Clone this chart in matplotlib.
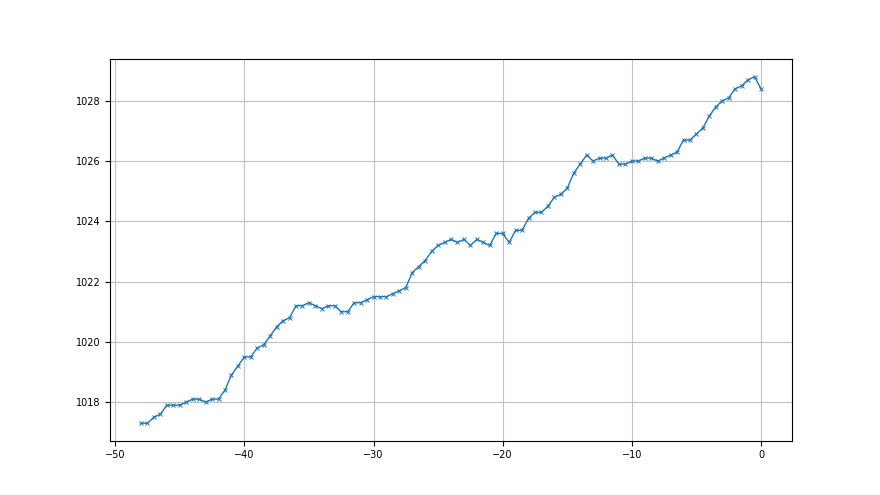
import numpy as np
import matplotlib
matplotlib.use("Agg")
import matplotlib.pyplot as plt

# hours relative to now, one reading every half hour
hours = np.arange(-48, 0.01, 0.5)

# pressure readings (hPa)
pressure = [
    1017.3, 1017.3, 1017.5, 1017.6, 1017.9, 1017.9, 1017.9, 1018.0, 1018.1, 1018.1,
    1018.0, 1018.1, 1018.1, 1018.4, 1018.9, 1019.2, 1019.5, 1019.5, 1019.8, 1019.9,
    1020.2, 1020.5, 1020.7, 1020.8, 1021.2, 1021.2, 1021.3, 1021.2, 1021.1, 1021.2,
    1021.2, 1021.0, 1021.0, 1021.3, 1021.3, 1021.4, 1021.5, 1021.5, 1021.5, 1021.6,
    1021.7, 1021.8, 1022.3, 1022.5, 1022.7, 1023.0, 1023.2, 1023.3, 1023.4, 1023.3,
    1023.4, 1023.2, 1023.4, 1023.3, 1023.2, 1023.6, 1023.6, 1023.3, 1023.7, 1023.7,
    1024.1, 1024.3, 1024.3, 1024.5, 1024.8, 1024.9, 1025.1, 1025.6, 1025.9, 1026.2,
    1026.0, 1026.1, 1026.1, 1026.2, 1025.9, 1025.9, 1026.0, 1026.0, 1026.1, 1026.1,
    1026.0, 1026.1, 1026.2, 1026.3, 1026.7, 1026.7, 1026.9, 1027.1, 1027.5, 1027.8,
    1028.0, 1028.1, 1028.4, 1028.5, 1028.7, 1028.8, 1028.4,
]

plt.rcParams['font.family'] = ['Liberation Sans Narrow', 'DejaVu Sans']
plt.rcParams['font.size'] = 7

fig, ax = plt.subplots(figsize=(8.8, 4.95), dpi=100)
ax.plot(hours, pressure, marker='x', markersize=3.5, markeredgewidth=0.7,
        linewidth=1, color='#1f77b4')
ax.grid(True, color='#c0c0c0', linewidth=0.8)
ax.set_xticks([-50, -40, -30, -20, -10, 0])
ax.set_yticks([1018, 1020, 1022, 1024, 1026, 1028])

fig.savefig("out.png", dpi=100)
